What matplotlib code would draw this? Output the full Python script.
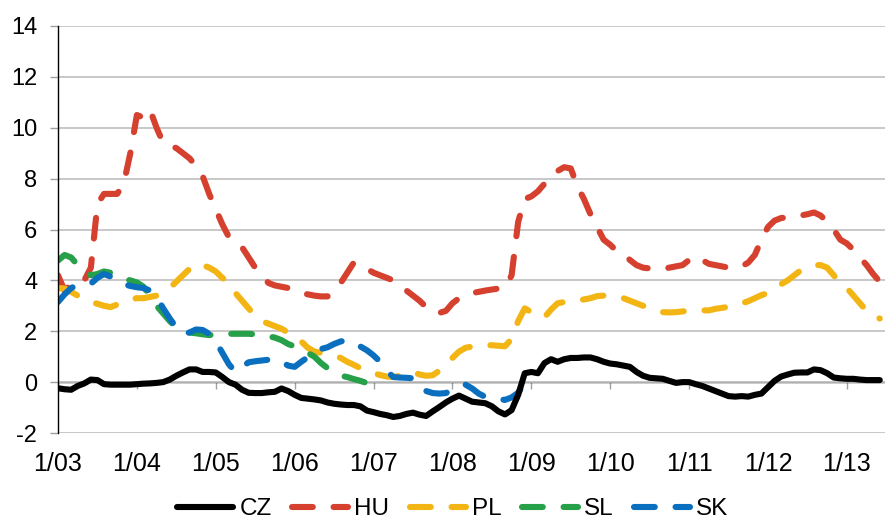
import numpy as np
import matplotlib
matplotlib.use("Agg")
import matplotlib.pyplot as plt

# monthly values, Jan 2003 onwards
cz = [-0.24, -0.28, -0.3, -0.15, -0.05, 0.1, 0.08, -0.08, -0.1, -0.1, -0.1, -0.1,
      -0.08, -0.06, -0.05, -0.03, 0.0, 0.1, 0.25, 0.38, 0.5, 0.5, 0.4, 0.4,
      0.38, 0.2, 0.0, -0.1, -0.3, -0.42, -0.43, -0.43, -0.4, -0.38, -0.25, -0.35,
      -0.5, -0.62, -0.65, -0.68, -0.72, -0.8, -0.85, -0.88, -0.9, -0.9, -0.95, -1.12,
      -1.18, -1.25, -1.3, -1.37, -1.33, -1.25, -1.2, -1.28, -1.33, -1.15, -0.98, -0.8,
      -0.65, -0.53, -0.65, -0.77, -0.8, -0.83, -0.95, -1.15, -1.27, -1.1, -0.5, 0.35,
      0.4, 0.35, 0.75, 0.9, 0.8, 0.9, 0.95, 0.95, 0.97, 0.97, 0.9, 0.8,
      0.73, 0.7, 0.65, 0.6, 0.4, 0.25, 0.17, 0.15, 0.13, 0.05, -0.03, 0.0,
      0.0, -0.08, -0.15, -0.25, -0.35, -0.45, -0.55, -0.57, -0.55, -0.57, -0.5, -0.45,
      -0.2, 0.05, 0.22, 0.3, 0.37, 0.38, 0.38, 0.5, 0.47, 0.35, 0.18, 0.15,
      0.13, 0.13, 0.1, 0.08, 0.08, 0.08]
hu = [4.2, 3.6, 3.85, 3.95, 4.0, 4.5, 7.0, 7.4, 7.4, 7.4, 7.8, 9.0,
      10.5, 10.4, 10.7, 10.0, 9.4, 9.3, 9.2, 9.0, 8.8, 8.5, 8.1, 7.4,
      6.8, 6.2, 5.7, 5.5, 5.3, 4.9, 4.5, 4.2, 3.9, 3.8, 3.75, 3.7,
      3.6, 3.5, 3.45, 3.4, 3.37, 3.37, 3.6, 3.9, 4.3, 4.7, 4.6, 4.45,
      4.3, 4.2, 4.1, 4.0, 3.8, 3.6, 3.4, 3.2, 2.95, 2.75, 2.72, 2.8,
      3.1, 3.3, 3.4, 3.5, 3.55, 3.6, 3.64, 3.68, 3.7, 4.2, 6.3, 7.2,
      7.3, 7.5, 7.8, 8.0, 8.3, 8.45, 8.4, 7.7, 7.2, 6.6, 6.1, 5.6,
      5.4, 5.15, 5.05, 4.8, 4.6, 4.5, 4.47, 4.45, 4.45, 4.5, 4.55, 4.6,
      4.8, 4.95, 4.8, 4.65, 4.6, 4.55, 4.5, 4.5, 4.55, 4.7, 5.0, 5.6,
      6.1, 6.35, 6.45, 6.48, 6.5, 6.55, 6.6, 6.67, 6.55, 6.3, 6.0, 5.6,
      5.45, 5.2, 4.9, 4.6, 4.25, 3.95]
pl = [3.7, 3.68, 3.55, 3.4, 3.25, 3.15, 3.08, 3.0, 2.95, 3.05, 3.15, 3.25,
      3.3, 3.3, 3.35, 3.4, 3.55, 3.7, 3.95, 4.2, 4.45, 4.65, 4.6, 4.5,
      4.35, 4.1, 3.9, 3.5, 3.2, 2.9, 2.6, 2.4, 2.3, 2.2, 2.1, 1.95,
      1.8, 1.6, 1.35, 1.2, 1.15, 1.1, 1.05, 0.95, 0.8, 0.68, 0.55, 0.45,
      0.35, 0.28, 0.22, 0.2, 0.25, 0.35, 0.4, 0.3, 0.25, 0.27, 0.45, 0.7,
      0.95, 1.2, 1.35, 1.4, 1.45, 1.45, 1.45, 1.43, 1.41, 1.7, 2.4, 2.9,
      2.75, 2.6, 2.55, 2.85, 3.1, 3.15, 3.18, 3.2, 3.25, 3.3, 3.38, 3.4,
      3.38, 3.35, 3.3, 3.2, 3.1, 3.0, 2.9, 2.82, 2.75, 2.74, 2.75, 2.78,
      2.8, 2.8, 2.82, 2.82, 2.88, 2.92, 2.96, 3.02, 3.1, 3.18, 3.3, 3.42,
      3.5, 3.65, 3.85, 4.0, 4.2, 4.4, 4.5, 4.6, 4.6, 4.5, 4.2, 3.92,
      3.7, 3.4, 3.1, 2.8, 2.6, 2.5]
sl = [4.78, 5.0, 4.9, 4.6, 4.35, 4.2, 4.25, 4.35, 4.3, 4.15, 4.05, 4.0,
      3.92, 3.75, 3.4, 3.0, 2.7, 2.4, 2.15, 2.0, 1.95, 1.92, 1.88, 1.85,
      1.87, 1.9, 1.9, 1.9, 1.9, 1.9, 1.88, 1.85, 1.8, 1.75, 1.65, 1.5,
      1.4, 1.25, 1.15, 1.0, 0.75, 0.55, 0.4, 0.25, 0.2, 0.12, 0.05, -0.04]
sk = [3.15, 3.45, 3.7, 3.82, 3.85, 3.87, 4.1, 4.25, 4.15, 3.95, 3.85, 3.78,
      3.73, 3.7, 3.6, 3.35, 2.9, 2.5, 2.15, 1.9, 1.95, 2.07, 2.05, 1.9,
      1.6, 1.15, 0.7, 0.4, 0.6, 0.78, 0.82, 0.85, 0.88, 0.9, 0.8, 0.65,
      0.6, 0.8, 0.98, 1.15, 1.3, 1.37, 1.5, 1.6, 1.65, 1.55, 1.4, 1.25,
      1.05, 0.8, 0.45, 0.2, 0.18, 0.17, 0.15, -0.1, -0.35, -0.43, -0.45, -0.43,
      -0.3, -0.15, -0.1, -0.25, -0.45, -0.58, -0.62, -0.67, -0.7, -0.6, -0.42, 0.0]

year_labels = ["1/03", "1/04", "1/05", "1/06", "1/07", "1/08",
               "1/09", "1/10", "1/11", "1/12", "1/13"]

dash = (0, (3.4, 3.4))
series = [
    ("CZ", cz, "black", "-"),
    ("HU", hu, "#D5402F", dash),
    ("PL", pl, "#F3B514", dash),
    ("SL", sl, "#27A04A", dash),
    ("SK", sk, "#0A6FBF", dash),
]

plt.rcParams["font.family"] = ["Liberation Sans", "DejaVu Sans"]
plt.rcParams["axes.unicode_minus"] = False

fig = plt.figure(figsize=(8.85, 5.19), dpi=100)
ax = fig.add_axes([58 / 885, 86 / 519, 827 / 885, 407 / 519])

# dashed series first, CZ on top
for name, vals, col, ls in series[1:] + series[:1]:
    ax.plot(np.arange(len(vals)), vals, color=col, linestyle=ls, lw=4.4,
            dash_capstyle="round", solid_capstyle="round", label=name,
            zorder=3 if name == "CZ" else 2)

ax.set_xlim(0, 125.8)
ax.set_ylim(-2, 14)
ax.set_yticks(range(-2, 15, 2))
ax.grid(axis="y", color="#C4C4C4", lw=1.3)
ax.set_axisbelow(True)

ax.set_xticks(np.arange(len(year_labels)) * 12)
ax.set_xticklabels(year_labels, fontsize=18)
ax.tick_params(axis="x", length=0, pad=14)
ax.tick_params(axis="y", length=6, color="#A0A0A0", width=1, pad=9,
               labelsize=17)

for s in ["top", "right", "bottom"]:
    ax.spines[s].set_visible(False)
ax.spines["left"].set_color("black")
ax.spines["left"].set_linewidth(1)

# zero axis line with year tick marks
sec = ax.secondary_xaxis(0, transform=ax.transData)
sec.set_xticks(np.arange(len(year_labels)) * 12)
sec.set_xticklabels([])
sec.tick_params(axis="x", length=5, color="#A0A0A0", width=1, direction="out")
sec.spines["bottom"].set_color("black")
sec.spines["bottom"].set_linewidth(1)

handles, labels = ax.get_legend_handles_labels()
order = [labels.index(n) for n, *_ in series]
fig.legend([handles[i] for i in order], [labels[i] for i in order],
           loc="lower center", bbox_to_anchor=(453 / 885, -0.045), ncol=5,
           frameon=False, handlelength=2.3, handletextpad=0.25,
           columnspacing=0.85, fontsize=17.5)

fig.savefig("out.png", dpi=100)
